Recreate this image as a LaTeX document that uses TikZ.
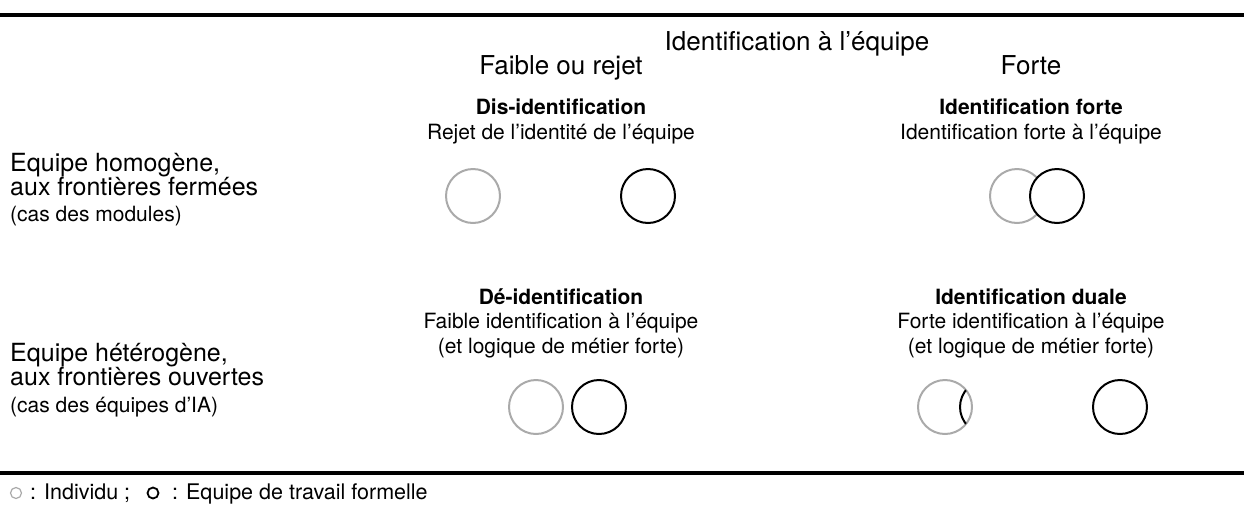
\documentclass[tikz,border=0pt]{standalone}
\usepackage{fontspec}
\setmainfont{TeX Gyre Heros}
\definecolor{indgray}{RGB}{170,170,170}
\begin{document}
\begin{tikzpicture}[x=1pt,y=-1pt,
  txt/.style={inner sep=0pt, anchor=base},
  big/.style={txt, font=\fontsize{26}{30}\selectfont},
  lab/.style={txt, anchor=base west, font=\fontsize{25}{30}\selectfont},
  labsmall/.style={txt, anchor=base west, font=\fontsize{21}{25}\selectfont},
  cellb/.style={txt, font=\fontsize{21}{25}\selectfont\bfseries},
  cell/.style={txt, font=\fontsize{21}{25}\selectfont},
  legtxt/.style={txt, anchor=base west, font=\fontsize{21.5}{25}\selectfont},
  ind/.style={circle, draw=indgray, line width=2pt, inner sep=0pt, minimum size=54pt, fill=white},
  team/.style={circle, draw=black, line width=2pt, inner sep=0pt, minimum size=54pt, fill=white},
  hrule/.style={line width=4pt}]
\useasboundingbox (0,0) rectangle (1244,504);
% rules
\coordinate (tl) at (0,15); \coordinate (tr) at (1244,15);
\draw[hrule] (tl) -- (tr);
\coordinate (bl) at (0,473); \coordinate (br) at (1244,473);
\draw[hrule] (bl) -- (br);
% headings
\node[big] (head) at (797,50) {Identification à l’équipe};
\node[big] (colA) at (561,74) {Faible ou rejet};
\node[big] (colB) at (1031,74) {Forte};
% row labels
\node[lab] (r1a) at (10,171) {Equipe homogène,};
\node[lab] (r1b) at (10,195) {aux frontières fermées};
\node[labsmall] (r1c) at (10,221) {(cas des modules)};
\node[lab] (r2a) at (10,361) {Equipe hétérogène,};
\node[lab] (r2b) at (10,385) {aux frontières ouvertes};
\node[labsmall] (r2c) at (10,412) {(cas des équipes d’IA)};
% cells row 1
\node[cellb] (c11t) at (561,114) {Dis-identification};
\node[cell] (c11s) at (561,139) {Rejet de l’identité de l’équipe};
\node[cellb] (c12t) at (1031,114) {Identification forte};
\node[cell] (c12s) at (1031,139) {Identification forte à l’équipe};
% cells row 2
\node[cellb] (c21t) at (561,304) {Dé-identification};
\node[cell] (c21s) at (561,328) {Faible identification à l’équipe};
\node[cell] (c21u) at (561,353) {(et logique de métier forte)};
\node[cellb] (c22t) at (1031,304) {Identification duale};
\node[cell] (c22s) at (1031,328) {Forte identification à l’équipe};
\node[cell] (c22u) at (1031,353) {(et logique de métier forte)};
% circles row 1
\node[ind] (i11) at (473,196) {};
\node[team] (t11) at (648,196) {};
\node[ind] (i12) at (1017,196) {};
\node[team] (t12) at (1057,196) {};
% circles row 2
\node[ind] (i21) at (536,407) {};
\node[team] (t21) at (599,407) {};
\node[ind] (i22) at (945,407) {};
\begin{scope}
  \clip (i22.center) circle[radius=27];
  \node[team, fill=none] (t22a) at (987,407) {};
\end{scope}
\node[team] (t22) at (1120,407) {};
% legend
\node[circle, draw=indgray, line width=1.2pt, inner sep=0pt, minimum size=11pt] (lgi) at (16,493) {};
\node[legtxt] (lgit) at (30,499) {: Individu ;};
\node[circle, draw=black, line width=1.8pt, inner sep=0pt, minimum size=11pt] (lgt) at (153,493) {};
\node[legtxt] (lgtt) at (172,499) {: Equipe de travail formelle};
\end{tikzpicture}
\end{document}
